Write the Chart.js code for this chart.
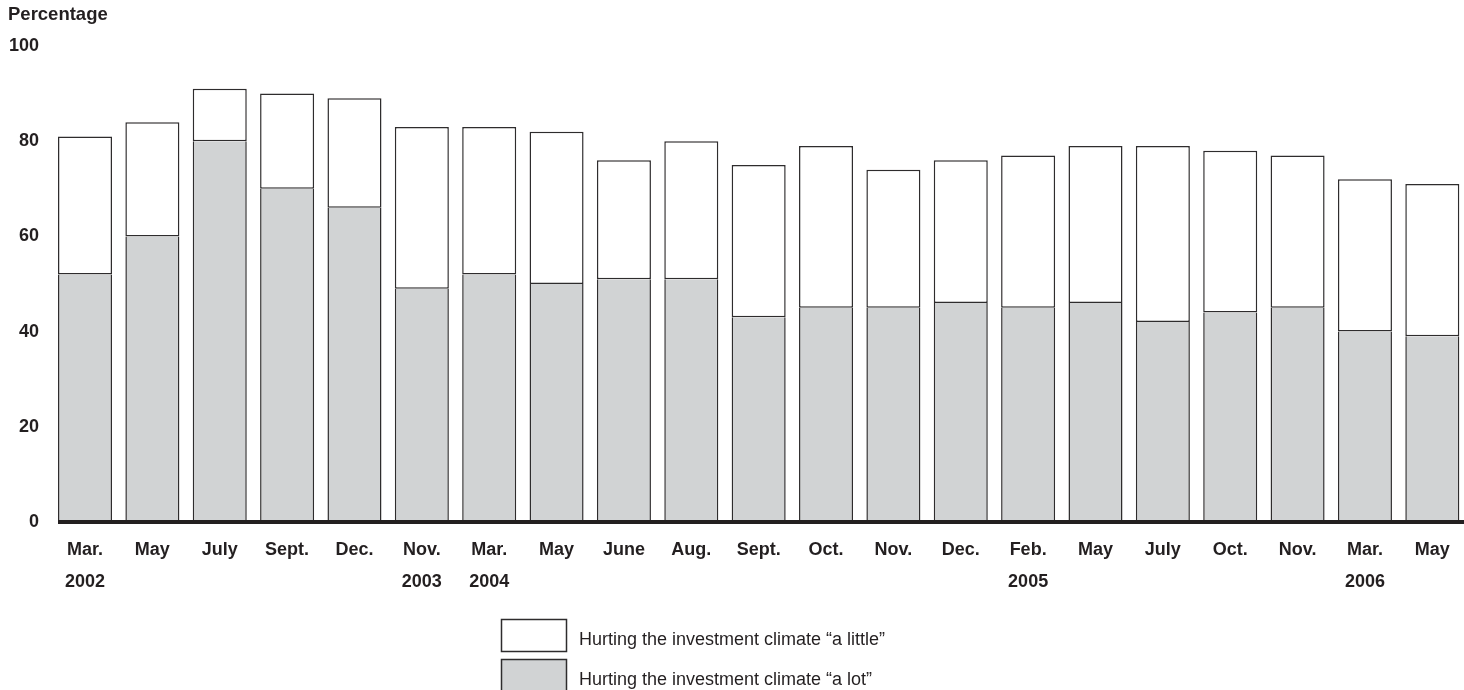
<!DOCTYPE html>
<html>
<head>
<meta charset="utf-8">
<script src="https://cdn.jsdelivr.net/npm/chart.js@4/dist/chart.umd.min.js"></script>
<style>
  html, body { margin: 0; padding: 0; background: #ffffff; overflow: hidden; }
  #wrap { position: relative; width: 1464px; height: 690px; overflow: hidden; }
  canvas { display: block; }
</style>
</head>
<body>
<div id="wrap"><canvas id="c" width="1466" height="690"></canvas></div>
<script>
// ---- Data ----
const months = ["Mar.", "May", "July", "Sept.", "Dec.", "Nov.", "Mar.", "May", "June", "Aug.", "Sept.", "Oct.", "Nov.", "Dec.", "Feb.", "May", "July", "Oct.", "Nov.", "Mar.", "May"];
const years  = ["2002", "", "", "", "", "2003", "2004", "", "", "", "", "", "", "", "2005", "", "", "", "", "2006", ""];
const aLot    = [52, 60, 80, 70, 66, 49, 52, 50, 51, 51, 43, 45, 45, 46, 45, 46, 42, 44, 45, 40, 39];
const aLittle = [29, 24, 11, 20, 23, 34, 31, 32, 25, 29, 32, 34, 29, 30, 32, 33, 37, 34, 32, 32, 32];
const yTicks  = [0, 20, 40, 60, 80, 100];
const seriesNames = ["Hurting the investment climate \u201ca lot\u201d", "Hurting the investment climate \u201ca little\u201d"];
const yTitle = "Percentage";

const labels = months.map((m, i) => [m, years[i]]);
const TXT = '#231f20';
const GRAY = '#d1d3d4';
const EDGE = '#2e2c2d';
const FONT = "'Liberation Sans', Arial, Helvetica, sans-serif";

const extras = {
  id: 'extras',
  afterDatasetsDraw(chart) {
    const ctx = chart.ctx;
    const y = chart.chartArea.bottom;
    ctx.save();
    ctx.strokeStyle = TXT;
    ctx.lineWidth = 4;
    ctx.beginPath();
    ctx.moveTo(58, y);
    ctx.lineTo(1464, y);
    ctx.stroke();
    ctx.restore();
  },
  afterDraw(chart) {
    const ctx = chart.ctx;
    ctx.save();
    ctx.fillStyle = TXT;
    ctx.font = "bold 18.5px " + FONT;
    ctx.textAlign = 'left';
    ctx.textBaseline = 'alphabetic';
    ctx.fillText(yTitle, 8, 20);

    // legend
    const items = [
      { fill: '#ffffff', text: seriesNames[1], y: 619, base: 645 },
      { fill: GRAY, text: seriesNames[0], y: 659, base: 685 }
    ];
    items.forEach(it => {
      ctx.fillStyle = it.fill;
      ctx.fillRect(501.5, it.y + 0.5, 65, 32);
      ctx.strokeStyle = EDGE;
      ctx.lineWidth = 1.5;
      ctx.strokeRect(501.5, it.y + 0.5, 65, 32);
      ctx.fillStyle = TXT;
      ctx.font = "18px " + FONT;
      ctx.fillText(it.text, 579, it.base);
    });
    ctx.restore();
  }
};

new Chart(document.getElementById('c'), {
  type: 'bar',
  data: {
    labels: labels,
    datasets: [
      { label: seriesNames[0], data: aLot, backgroundColor: GRAY, borderColor: EDGE, borderWidth: 1.5, borderSkipped: 'top' },
      { label: seriesNames[1], data: aLittle, backgroundColor: '#ffffff', borderColor: EDGE, borderWidth: 1.5, borderSkipped: false }
    ]
  },
  options: {
    responsive: false,
    animation: false,
    events: [],
    layout: { padding: { top: 46, left: 0, right: 0, bottom: 0 } },
    datasets: { bar: { categoryPercentage: 1.0, barPercentage: 54 / 67.33 } },
    plugins: { legend: { display: false }, tooltip: { enabled: false }, title: { display: false } },
    scales: {
      x: {
        stacked: true,
        grid: { display: false, drawTicks: false },
        border: { display: false },
        ticks: {
          color: TXT,
          font: { family: FONT, size: 18, weight: 'bold', lineHeight: 32 / 18 },
          padding: 12,
          maxRotation: 0,
          autoSkip: false
        },
        afterFit(scale) { scale.height = 168; }
      },
      y: {
        stacked: true,
        min: 0,
        max: 100,
        afterBuildTicks(scale) { scale.ticks = yTicks.map(v => ({ value: v })); },
        grid: { display: false, drawTicks: false },
        border: { display: false },
        ticks: {
          color: TXT,
          font: { family: FONT, size: 18, weight: 'bold' },
          padding: 12.3
        },
        afterFit(scale) { scale.width = 51.33; }
      }
    }
  },
  plugins: [extras]
});
</script>
</body>
</html>
